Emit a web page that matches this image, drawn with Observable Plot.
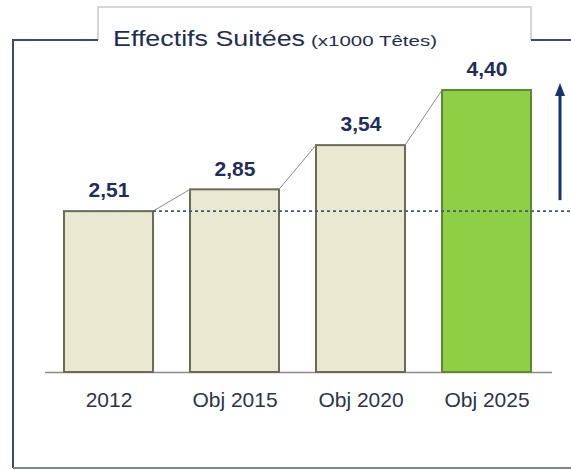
<!DOCTYPE html>
<html><head><meta charset="utf-8">
<script src="https://cdn.jsdelivr.net/npm/d3@7"></script>
<script src="https://cdn.jsdelivr.net/npm/@observablehq/plot@0.6"></script>
<style>body{margin:0;background:#fff}</style>
</head><body><div id="chart"></div>
<script>
const categories = ["2012", "Obj 2015", "Obj 2020", "Obj 2025"];
const values = [2.51, 2.85, 3.54, 4.40];
const titleMain = "Effectifs Suitées";
const titleUnit = "(x1000 Têtes)";

const data = categories.map((c, i) => ({category: c, value: values[i], highlight: i === categories.length - 1}));
const fmt = v => v.toFixed(2).replace(".", ",");

const connectors = (index, {x, y}) => {
  const g = d3.create("svg:g");
  const bw = x.bandwidth();
  for (let i = 0; i < data.length - 1; i++) {
    g.append("line")
      .attr("x1", x(data[i].category) + bw).attr("y1", y(data[i].value))
      .attr("x2", x(data[i + 1].category)).attr("y2", y(data[i + 1].value))
      .attr("stroke", "#8a8a8a").attr("stroke-width", 1);
  }
  return g.node();
};

const reference = (index, {x, y}, v, dims) => {
  const g = d3.create("svg:g");
  const bw = x.bandwidth();
  g.append("line")
    .attr("x1", x(data[0].category) + bw).attr("x2", dims.width)
    .attr("y1", y(data[0].value)).attr("y2", y(data[0].value))
    .attr("stroke", "#44557a").attr("stroke-width", 1.8).attr("stroke-dasharray", "3,3");
  return g.node();
};

const growthArrow = (index, {y}, v, dims) => {
  const g = d3.create("svg:g");
  const ax = dims.width - 11;
  const yStart = y(data[0].value) - 11;
  const yEnd = y(data[data.length - 1].value) - 7;
  g.append("line").attr("x1", ax).attr("x2", ax).attr("y1", yStart).attr("y2", yEnd + 10)
    .attr("stroke", "#17346e").attr("stroke-width", 3);
  g.append("path").attr("d", `M${ax},${yEnd} L${ax - 5},${yEnd + 13} L${ax + 5},${yEnd + 13} Z`)
    .attr("fill", "#17346e");
  return g.node();
};

const chart = Plot.plot({
  width: 571,
  height: 470,
  marginLeft: 26,
  marginRight: 2,
  marginTop: 90,
  marginBottom: 98,
  style: {fontFamily: "'Liberation Sans', Arial, sans-serif", fontSize: "21px", color: "#2e3448", background: "transparent"},
  x: {domain: categories, padding: 0.29, tickSize: 0, tickPadding: 20, label: null},
  y: {domain: [0, 4.40], axis: null},
  marks: [
    Plot.ruleY([0], {stroke: "#8c8c8c", strokeWidth: 1.5, insetLeft: 19, insetRight: 17}),
    Plot.barY(data, {
      x: "category", y: "value",
      fill: d => d.highlight ? "#8fcf45" : "#e9e9d2",
      stroke: d => d.highlight ? "#5b8a35" : "#6b6b58",
      strokeWidth: 2
    }),
    connectors,
    reference,
    growthArrow,
    Plot.text(data, {
      x: "category", y: "value", text: d => fmt(d.value),
      dy: -21, fontSize: 21, fontWeight: "bold", fill: "#1f2d5e"
    })
  ]
});

const svg = d3.select(chart);
const deco = svg.insert("g", ":first-child");
deco.append("path").attr("d", "M98,40 V7 H531 V40").attr("fill", "none").attr("stroke", "#c9c9c9").attr("stroke-width", 1.5);
deco.append("path").attr("d", "M98,40 H13 V468").attr("fill", "none").attr("stroke", "#3e4a68").attr("stroke-width", 2);
deco.append("path").attr("d", "M531,40 H571").attr("fill", "none").attr("stroke", "#3e4a68").attr("stroke-width", 2);
deco.append("path").attr("d", "M13,468 H571").attr("fill", "none").attr("stroke", "#7c8497").attr("stroke-width", 2);

svg.append("text").attr("x", 113).attr("y", 46).attr("font-size", 22).attr("fill", "#1f2d50")
  .attr("text-anchor", "start")
  .attr("textLength", 192).attr("lengthAdjust", "spacingAndGlyphs").text(titleMain);
svg.append("text").attr("x", 311).attr("y", 46).attr("font-size", 15).attr("fill", "#1f2d50")
  .attr("text-anchor", "start")
  .attr("textLength", 126).attr("lengthAdjust", "spacingAndGlyphs").text(titleUnit);

document.getElementById("chart").appendChild(chart);
</script>
</body></html>
